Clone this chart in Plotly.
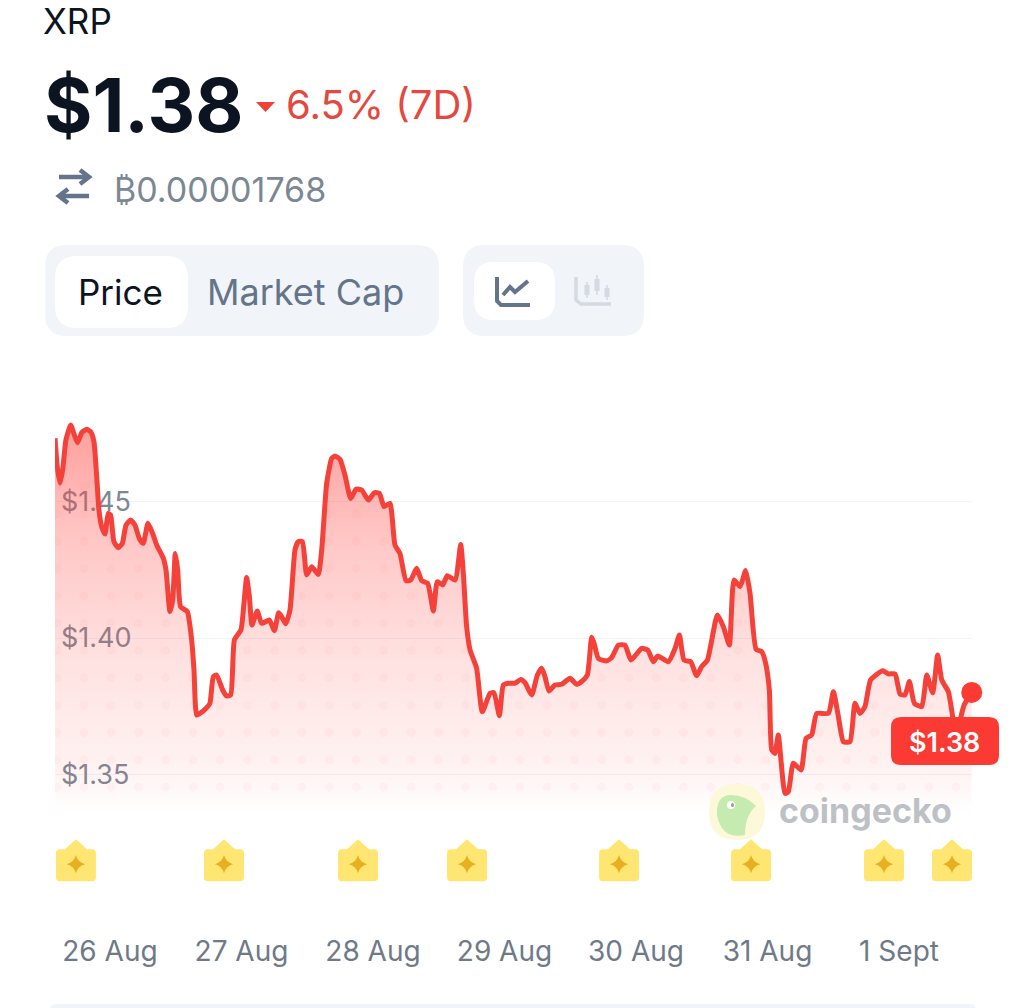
import numpy as np
import plotly.graph_objects as go

# ---------- data ----------
days = [-.418,-.401,-.380,-.360,-.335,-.299,-.271,-.246,-.215,-.177,-.147,-.122,-.101,-.084,-.063,-.038,-.013,.005,.030,.063,
 .094,.122,.157,.190,.223,.253,.289,.324,.355,.406,.426,.456,.477,.497,.515,.537,.588,.621,.639,.659,
 .684,.735,.760,.786,.811,.857,.887,.918,.946,.996,1.019,1.039,1.060,1.080,1.120,1.153,1.212,1.250,1.283,1.305,
 1.336,1.369,1.407,1.432,1.463,1.496,1.534,1.584,1.610,1.648,1.686,1.711,1.749,1.787,1.830,1.871,1.914,1.965,2.010,2.048,
 2.084,2.129,2.167,2.205,2.251,2.286,2.332,2.370,2.416,2.459,2.489,2.530,2.565,2.624,2.667,2.687,2.712,2.738,2.788,2.831,
 2.890,2.920,2.961,2.991,3.029,3.080,3.123,3.156,3.207,3.250,3.283,3.308,3.338,3.384,3.435,3.498,3.549,3.587,3.630,3.663,
 3.681,3.714,3.777,3.815,3.866,3.916,3.962,4.043,4.089,4.132,4.165,4.246,4.297,4.330,4.365,4.416,4.461,4.499,4.543,4.619,
 4.664,4.710,4.745,4.791,4.834,4.867,4.913,4.956,4.986,5.014,5.032,5.057,5.082,5.133,5.158,5.196,5.255,5.293,5.336,5.374,
 5.463,5.501,5.539,5.577,5.627,5.665,5.703,5.741,5.784,5.876,5.919,5.970,6.008,6.046,6.079,6.117,6.173,6.211,6.256,6.294,
 6.325,6.375,6.408,6.434,6.477,6.495,6.553]
prices = [1.4734,1.4630,1.4569,1.4618,1.4728,1.4783,1.4746,1.4718,1.4755,1.4767,1.4758,1.4722,1.4593,1.4471,1.4409,1.4382,1.4458,1.4452,1.4354,1.4332,
 1.4348,1.4415,1.4434,1.4415,1.4366,1.4348,1.4422,1.4385,1.4342,1.4293,1.4250,1.4097,1.4140,1.4311,1.4250,1.4115,1.4097,1.3993,1.3883,1.3717,
 1.3723,1.3744,1.3760,1.3858,1.3864,1.3809,1.3787,1.3791,1.3993,1.4030,1.4128,1.4222,1.4152,1.4048,1.4099,1.4054,1.4066,1.4027,1.4093,1.4079,
 1.4052,1.4103,1.4324,1.4354,1.4354,1.4232,1.4262,1.4234,1.4324,1.4569,1.4660,1.4669,1.4657,1.4599,1.4513,1.4547,1.4544,1.4507,1.4534,1.4532,
 1.4483,1.4495,1.4342,1.4311,1.4211,1.4213,1.4256,1.4211,1.4201,1.4099,1.4207,1.4195,1.4229,1.4213,1.4344,1.4238,1.4042,1.3956,1.3889,1.3729,
 1.3797,1.3799,1.3714,1.3827,1.3834,1.3834,1.3848,1.3836,1.3791,1.3864,1.3889,1.3858,1.3805,1.3827,1.3830,1.3852,1.3830,1.3840,1.3864,1.4003,
 1.3981,1.3925,1.3916,1.3928,1.3974,1.3974,1.3919,1.3962,1.3956,1.3913,1.3934,1.3913,1.3962,1.4011,1.3919,1.3913,1.3861,1.3895,1.3919,1.4085,
 1.4042,1.3974,1.4213,1.4189,1.4248,1.4164,1.3959,1.3950,1.3907,1.3809,1.3589,1.3576,1.3644,1.3429,1.3435,1.3540,1.3515,1.3631,1.3644,1.3723,
 1.3723,1.3803,1.3711,1.3619,1.3619,1.3760,1.3723,1.3748,1.3846,1.3880,1.3868,1.3868,1.3794,1.3791,1.3840,1.3760,1.3748,1.3864,1.3799,1.3938,
 1.3846,1.3803,1.3711,1.3625,1.3723,1.3754,1.3800]
day_ticks = [0, 1, 2, 3, 4, 5, 6]
day_labels = ["26 Aug", "27 Aug", "28 Aug", "29 Aug", "30 Aug", "31 Aug", "1 Sept"]
price_ticks = [1.35, 1.40, 1.45]
price_labels = ["$1.35", "$1.40", "$1.45"]
event_days = [-.259, .867, 1.886, 2.715, 3.871, 4.875, 5.886, 6.403]
event_level = [1.3169] * 8
fill_floor = [1.335] * len(days)

W, H = 1024, 1008
FONT = "Inter"
def X(p): return p / W
def Y(p): return 1 - p / H

def rrect(x0, y0, x1, y1, r):
    a, b, c, d = X(x0), Y(y0), X(x1), Y(y1)
    rx, ry = r / W, r / H
    return (f"M{a+rx},{b} L{c-rx},{b} Q{c},{b} {c},{b-ry} L{c},{d+ry} Q{c},{d} {c-rx},{d} "
            f"L{a+rx},{d} Q{a},{d} {a},{d+ry} L{a},{b-ry} Q{a},{b} {a+rx},{b} Z")

def poly(points, close=False):
    s = " ".join(("M" if i == 0 else "L") + f"{X(px)},{Y(py)}" for i, (px, py) in enumerate(points))
    return s + (" Z" if close else "")

shapes = []
def add_path(path, fill=None, line=None, lw=0, layer="above"):
    shapes.append(dict(type="path", path=path, xref="paper", yref="paper", layer=layer,
                       fillcolor=fill or "rgba(0,0,0,0)",
                       line=dict(color=line or "rgba(0,0,0,0)", width=lw)))

annots = []
def text(x, y, s, size, color, anchor="left", weight=400, font=FONT):
    annots.append(dict(x=X(x), y=Y(y), xref="paper", yref="paper", text=s, showarrow=False,
                       xanchor=anchor, yanchor="middle", borderpad=0,
                       font=dict(family=font, size=size, color=color, weight=weight)))

fig = go.Figure()

# area: floor line + gradient fill
fig.add_trace(go.Scatter(x=days, y=fill_floor, mode="lines", line=dict(width=0, color="rgba(0,0,0,0)"),
                         hoverinfo="skip", showlegend=False))
fig.add_trace(go.Scatter(x=days, y=prices, mode="lines", fill="tonexty",
                         fillgradient=dict(type="vertical",
                                           colorscale=[[0, "rgba(255,70,65,0)"], [0.12, "rgba(255,70,65,0.07)"],
                                                       [0.4, "rgba(255,70,65,0.16)"], [0.7, "rgba(255,70,65,0.3)"],
                                                       [1, "rgba(255,70,65,0.52)"]]),
                         line=dict(color="rgba(0,0,0,0)", width=0), hoverinfo="skip", showlegend=False))

# faint dot texture, only below the curve
dx, dy = 0.2072, 0.01004
gx = np.arange(-0.405, 6.56, dx)
gy = np.arange(1.3452, 1.46, dy)
dot_x, dot_y = [], []
for a in gx:
    top = np.interp(a, days, prices)
    for b in gy:
        if b < top - 0.004:
            dot_x.append(a)
            dot_y.append(b)
fig.add_trace(go.Scatter(x=dot_x, y=dot_y, mode="markers", hoverinfo="skip", showlegend=False,
                         marker=dict(size=9, color="rgba(255,90,90,0.045)", line=dict(width=0))))

# price line
fig.add_trace(go.Scatter(x=days, y=prices, mode="lines", name="XRP",
                         line=dict(color="#f4413a", width=5, shape="spline", smoothing=0.5), showlegend=False))
# current price dot
fig.add_trace(go.Scatter(x=days[-1:], y=prices[-1:], mode="markers", cliponaxis=False, showlegend=False,
                         marker=dict(size=21, color="#fb3a33", line=dict(width=0))))

# event badges
badge = ("M-16,15 Q-20,15 -20,11 L-20,-13 Q-20,-17 -16,-17 L16,-17 Q20,-17 20,-13 L20,11 Q20,15 16,15 "
         "L11,15 L0,25 L-11,15 Z")
for d, lv in zip(event_days, event_level):
    shapes.append(dict(type="path", xref="x", yref="y", xsizemode="pixel", ysizemode="pixel",
                       xanchor=d, yanchor=lv, path=badge, layer="below",
                       fillcolor="#ffe673", line=dict(width=0)))
fig.add_trace(go.Scatter(x=event_days, y=event_level, mode="markers", hoverinfo="skip", showlegend=False,
                         marker=dict(symbol="star-diamond", size=13, color="#e8b020", line=dict(width=0))))

# header pills
add_path(rrect(45, 245, 439, 336, 22), "#f1f4f8", layer="below")
add_path(rrect(55, 256, 188, 328, 22), "#ffffff", layer="below")
add_path(rrect(463, 245, 644, 336, 22), "#f1f4f8", layer="below")
add_path(rrect(474, 262, 555, 320, 20), "#ffffff", layer="below")
# bottom strip
add_path(rrect(50, 1004, 976, 1016, 6), "#f1f5fb", layer="below")

# change triangle
add_path(poly([(256, 102), (275, 102), (265.5, 112)], True), "#ef4136")
# swap icon
add_path(poly([(59, 177), (88, 177)]), line="#64748b", lw=4.5)
add_path(poly([(80, 170), (89, 177), (80, 184)]), line="#64748b", lw=4.5)
add_path(poly([(89, 196), (60, 196)]), line="#64748b", lw=4.5)
add_path(poly([(68, 189), (59, 196), (68, 203)]), line="#64748b", lw=4.5)
# line chart icon
add_path(poly([(497, 277), (497, 301), (501, 305), (530, 305)]), line="#64748b", lw=4)
add_path(poly([(503, 295), (510, 287), (515, 292), (528, 281)]), line="#64748b", lw=4)
# candle icon
add_path(poly([(576, 277), (576, 300), (581, 304), (611, 304)]), line="#d3dae3", lw=3.5)
for cx, y0, y1, b0, b1 in [(587, 282, 298, 285, 295), (597, 275, 295, 279, 291), (607, 285, 300, 288, 297)]:
    add_path(poly([(cx, y0), (cx, y1)]), line="#d3dae3", lw=1.5)
    add_path(poly([(cx, b0), (cx, b1)]), line="#d3dae3", lw=5)

# coingecko logo
cx, cy, r = 737, 812, 28
add_path(f"M{X(cx-r)},{Y(cy)} Q{X(cx-r)},{Y(cy-r)} {X(cx)},{Y(cy-r)} Q{X(cx+r)},{Y(cy-r)} {X(cx+r)},{Y(cy)} "
         f"Q{X(cx+r)},{Y(cy+r)} {X(cx)},{Y(cy+r)} Q{X(cx-r)},{Y(cy+r)} {X(cx-r)},{Y(cy)} Z", "#fdf8d8")
add_path(f"M{X(717)},{Y(815)} Q{X(716)},{Y(795)} {X(731)},{Y(795)} Q{X(745)},{Y(795)} {X(756)},{Y(806)} "
         f"Q{X(745)},{Y(815)} {X(745)},{Y(835)} Q{X(722)},{Y(840)} {X(717)},{Y(815)} Z", "#c6ebb1")
add_path(rrect(727, 801, 735, 809, 4), "#ffffff")
add_path(rrect(731, 803, 734, 807, 1.5), "#9aa39a")

# current price tag
add_path(rrect(891, 717, 999, 765, 10), "#fb3a33")

# texts
text(42, 21, "XRP", 35, "#0d1421")
text(43, 105, "$1.38", 74, "#0d1421", weight=700)
text(285, 105, "6.5% (7D)", 40, "#e5483f")
text(113, 189, "₿0.00001768", 34, "#7b8794")
text(120, 292, "Price", 35, "#0d1421", anchor="center")
text(206, 292, "Market Cap", 36, "#64748b")
text(944, 742, "$1.38", 27, "#ffffff", anchor="center", weight=600)
text(778, 810, "coingecko", 34, "#bdc1c6", weight=700)

fig.update_layout(
    width=W, height=H, margin=dict(l=0, r=0, t=0, b=0), autosize=False,
    paper_bgcolor="#ffffff", plot_bgcolor="rgba(0,0,0,0)", showlegend=False,
    shapes=shapes, annotations=annots, hovermode=False,
    xaxis=dict(domain=[X(55), X(972)], range=[-0.418, 6.555], tickmode="array", tickvals=day_ticks,
               ticktext=day_labels, showgrid=False, zeroline=False, showline=False, ticks="",
               ticklabelstandoff=2, tickfont=dict(family=FONT, size=28, color="#6f7a88"), fixedrange=True),
    yaxis=dict(domain=[1 - 930 / H, 1 - 410 / H], range=[1.2927, 1.4838], tickmode="array", tickvals=price_ticks,
               ticktext=price_labels, showgrid=True, gridcolor="#f1f3f5", gridwidth=1, zeroline=False, showline=False,
               ticks="", anchor="free", position=X(55), side="right", ticklabelstandoff=5, layer="below traces",
               tickfont=dict(family=FONT, size=27, color="#7f8896"), fixedrange=True),
)

fig.write_html("out.html", config=dict(displayModeBar=False, responsive=False),
               post_script="document.body.style.margin='0';document.documentElement.style.overflow='hidden';")
